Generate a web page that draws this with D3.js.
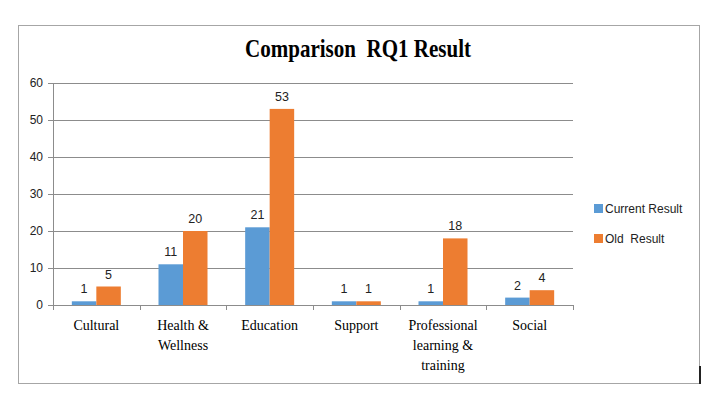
<!DOCTYPE html>
<html>
<head>
<meta charset="utf-8">
<script src="https://cdn.jsdelivr.net/npm/d3@7"></script>
<style>
  body { margin: 0; background: #fff; }
  text { white-space: pre; }
</style>
</head>
<body>
<script>
var categories = [["Cultural"], ["Health &", "Wellness"], ["Education"], ["Support"], ["Professional", "learning &", "training"], ["Social"]];
var currentResult = [1, 11, 21, 1, 1, 2];
var oldResult = [5, 20, 53, 1, 18, 4];
var seriesNames = ["Current Result", "Old  Result"];
var yTicks = [0, 10, 20, 30, 40, 50, 60];
var colors = ["#5b9bd5", "#ed7d31"];

var w = 707;
var h = 393;
var svg = d3.select("body").append("svg")
  .attr("width", w)
  .attr("height", h);

// outer frame
svg.append("rect")
  .attr("x", 18.5).attr("y", 25.5)
  .attr("width", 681).attr("height", 358)
  .attr("fill", "none").attr("stroke", "#a6a6a6").attr("stroke-width", 1);
svg.append("line")
  .attr("x1", 700).attr("x2", 700).attr("y1", 366).attr("y2", 384)
  .attr("stroke", "#222").attr("stroke-width", 2);

svg.append("text")
  .attr("x", 358).attr("y", 57)
  .attr("text-anchor", "middle")
  .attr("font-family", "Liberation Serif, serif")
  .attr("font-weight", "bold")
  .attr("font-size", 25)
  .attr("textLength", 226)
  .attr("lengthAdjust", "spacingAndGlyphs")
  .attr("fill", "#000")
  .text("Comparison  RQ1 Result");

var pLeft = 53, pRight = 573, pTop = 83, pBottom = 305;

var x = d3.scaleBand()
  .domain(d3.range(categories.length))
  .range([pLeft, pRight]);
var x1 = d3.scaleBand()
  .domain([0, 1])
  .range([0, 49]);
var y = d3.scaleLinear()
  .domain([0, 60])
  .range([pBottom, pTop]);

// gridlines
svg.append("g").selectAll("line")
  .data(yTicks)
  .enter().append("line")
  .attr("x1", pLeft - 5).attr("x2", pRight)
  .attr("y1", function(d){ return Math.round(y(d)) + 0.5; })
  .attr("y2", function(d){ return Math.round(y(d)) + 0.5; })
  .attr("stroke", "#8c8c8c").attr("stroke-width", 1);

svg.append("line")
  .attr("x1", pLeft + 0.5).attr("x2", pLeft + 0.5)
  .attr("y1", pTop).attr("y2", pBottom)
  .attr("stroke", "#8c8c8c");

// y labels
svg.append("g").selectAll("text")
  .data(yTicks)
  .enter().append("text")
  .attr("x", pLeft - 10)
  .attr("y", function(d){ return y(d) + 4; })
  .attr("text-anchor", "end")
  .attr("font-family", "Liberation Sans, sans-serif")
  .attr("font-size", 12)
  .attr("fill", "#222")
  .text(function(d){ return d; });

// category ticks
svg.append("g").selectAll("line")
  .data(d3.range(categories.length + 1))
  .enter().append("line")
  .attr("x1", function(i){ return Math.round(pLeft + i * x.step()) + 0.5; })
  .attr("x2", function(i){ return Math.round(pLeft + i * x.step()) + 0.5; })
  .attr("y1", pBottom).attr("y2", pBottom + 5)
  .attr("stroke", "#8c8c8c");

var series = [currentResult, oldResult];
series.forEach(function(vals, s){
  var g = svg.append("g");
  g.selectAll("rect")
    .data(vals)
    .enter().append("rect")
    .attr("x", function(d, i){ return x(i) + (x.bandwidth() - 49) / 2 + x1(s); })
    .attr("y", function(d){ return y(d); })
    .attr("width", x1.bandwidth())
    .attr("height", function(d){ return pBottom - y(d); })
    .attr("fill", colors[s]);
  g.selectAll("text")
    .data(vals)
    .enter().append("text")
    .attr("x", function(d, i){ return x(i) + (x.bandwidth() - 49) / 2 + x1(s) + x1.bandwidth() / 2; })
    .attr("y", function(d){ return y(d) - 8; })
    .attr("text-anchor", "middle")
    .attr("font-family", "Liberation Sans, sans-serif")
    .attr("font-size", 12.5)
    .attr("fill", "#222")
    .text(function(d){ return d; });
});

// category labels
var cl = svg.append("g").selectAll("text")
  .data(categories)
  .enter().append("text")
  .attr("x", function(d, i){ return x(i) + x.bandwidth() / 2; })
  .attr("y", 330)
  .attr("text-anchor", "middle")
  .attr("font-family", "Liberation Serif, serif")
  .attr("font-size", 14)
  .attr("fill", "#000");
cl.selectAll("tspan")
  .data(function(d){ return d; })
  .enter().append("tspan")
  .attr("x", function(){ return d3.select(this.parentNode).attr("x"); })
  .attr("dy", function(d, i){ return i === 0 ? 0 : 20; })
  .text(function(d){ return d; });

// legend
var lg = svg.append("g").selectAll("g")
  .data(seriesNames)
  .enter().append("g")
  .attr("transform", function(d, i){ return "translate(594," + (209 + i * 30) + ")"; });
lg.append("rect")
  .attr("x", 0).attr("y", -5)
  .attr("width", 9).attr("height", 9)
  .attr("fill", function(d, i){ return colors[i]; });
lg.append("text")
  .attr("x", 11).attr("y", 4)
  .attr("font-family", "Liberation Sans, sans-serif")
  .attr("font-size", 12)
  .attr("fill", "#222")
  .text(function(d){ return d; });
</script>
</body>
</html>
